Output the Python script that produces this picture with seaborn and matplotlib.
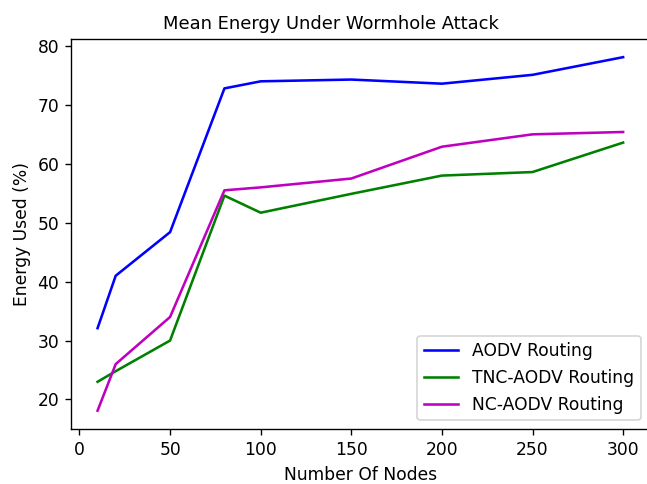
import matplotlib
matplotlib.use("Agg")
import matplotlib.pyplot as plt
import seaborn as sns
import pandas as pd

nodes = [10, 20, 50, 80, 100, 150, 200, 250, 300]
aodv = [32.1, 41.0, 48.4, 72.8, 74.0, 74.3, 73.6, 75.1, 78.1]
tnc_aodv = [23.0, 24.8, 30.0, 54.6, 51.7, 54.9, 58.0, 58.6, 63.6]
nc_aodv = [18.1, 26.0, 34.0, 55.5, 56.0, 57.5, 62.9, 65.0, 65.4]
labels = ["AODV Routing", "TNC-AODV Routing", "NC-AODV Routing"]
colors = ["b", "g", "m"]

DPI = 123
plt.rcParams["font.family"] = ["DejaVu Sans"]
fig = plt.figure(figsize=(647 / DPI, 484 / DPI), dpi=DPI)
ax = fig.add_axes([0.1102, 0.1138, 1.0037 - 0.1102, 0.9184 - 0.1138])

for vals, lab, col in zip([aodv, tnc_aodv, nc_aodv], labels, colors):
    df = pd.DataFrame({"x": nodes, "y": vals})
    sns.lineplot(data=df, x="x", y="y", ax=ax, color=col, label=lab, linewidth=1.5)

ax.set_xlim(-4.5, 314.5)
ax.set_ylim(15, 81.1)
ax.set_title("Mean Energy Under Wormhole Attack", fontsize=10.45, x=0.449)
ax.set_xlabel("Number Of Nodes")
ax.set_ylabel("Energy Used (%)")
ax.set_xticks([0, 50, 100, 150, 200, 250, 300])
ax.set_yticks([20, 30, 40, 50, 60, 70, 80])
ax.legend(loc="lower right")

fig.savefig("out.png", dpi=DPI)
